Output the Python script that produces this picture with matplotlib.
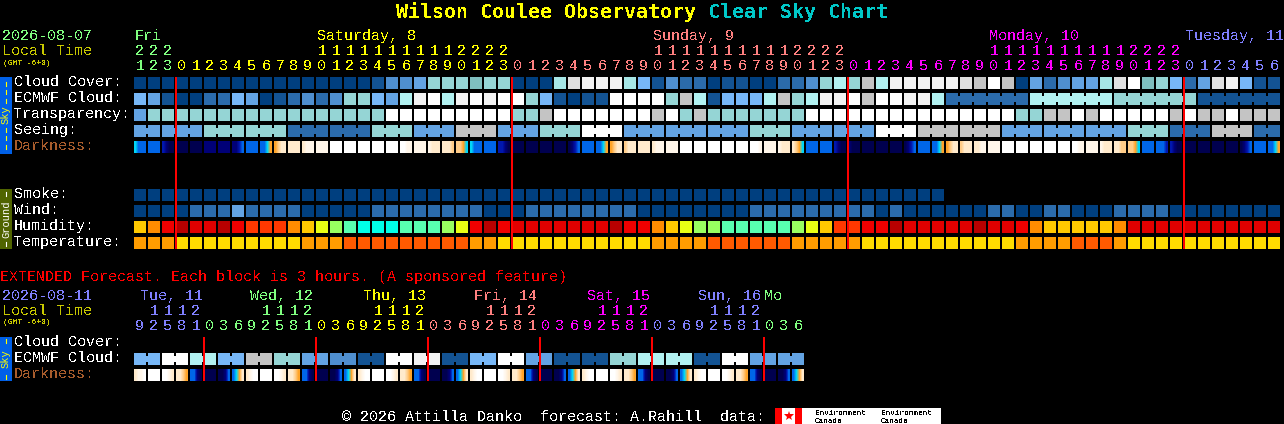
"""
Wilson Coulee Observatory Clear Sky Chart, drawn on a pixel-sized axes.
Rows are kept as strings, one letter per block, looked up in the palettes below.
"""
import numpy as np
import matplotlib
matplotlib.use("Agg")
import matplotlib.pyplot as plt
from matplotlib.colors import LinearSegmentedColormap
from matplotlib.patches import Rectangle

WIDTH, HEIGHT = 1284, 424

# ---- data: 1 hour blocks ----
CLOUD = ("aaaaaaaaaaaaaaaaa" "bdde" "hhhghh" "aaa" "ilmmmif" "bdcc" "abbaa"
         "ccdhjh" "kjmmmmm" "lknk" "aecdee" "ilnghf" "celmfbb")
ECMWF = ("febaaccfeabcdcdhhfej" "mnjmnmnnhfbabb" "nnnn" "hkjb" "fffjkhjmmn"
         "knnmmj" "cccccc" "jjjjjj" "hhhhhh" "bbbbbb")
TRANSPARENCY = ("e" "hhhhhhhhhhhhhhhhh" "nnnnnnnnn" "hhk" "nnnnnnn" "knhk"
                "hhhhhhh" "nnnnnnnnnnnnnnn" "hhkknk" "nnnnn" "knkkn" "kkk")
SEEING_GROUPS = "eehhcchekehneeeheenkkeeehckc"
SEEING_SPANS = [2] + [3] * 26 + [2]
ECMWF_SPANS = [1] * 58 + [6, 6, 6, 6]
SMOKE = "a" * 58
WIND = ("aaaa" "ccc" "e" "cccc" "aaaaa" "cccccccc" "aaa" "cccccccc" "aaaaaaaa"
        "ccccccccc" "a" "c" "aaaaaa" "cc" "aa" "cc" "aaa" "cccc" "aaaaaaaa")
HUMIDITY = ("Yorb" "ddbr" "OOOoYyGgCCCgggGy" "rbr" "ddddddd" "brr" "oYyGG"
            "gggggGyYOOrrb" "ddddd" "bddr" "oYYYYYo" "ddddddddddd")
TEMPERATURE = ("ooo" "yyyyyyyyy" "ooo" "xxxxxxxxx" "oo" "yyyyyyyyyyy" "oooo"
               "xxxxxx" "ooooo" "yyyyyyyyyyy" "oooo" "xxx" "o" "yyyyyyyyyyy")
DARKNESS = [
    "4333", "3333", "2100", "0000", "0000", "1111", "1111", "1123", "3333",
    "3345", "5677", "7777", "7888", "8888", "9999", "9999", "9999", "9999",
    "9999", "9988", "8888", "8777", "7776", "6654", "4333", "3333", "2210",
    "0000", "0000", "0000", "0000", "0123", "3333", "3345", "5677", "6777",
    "7777", "7888", "8888", "9999", "9999", "9999", "9999", "9999", "9998",
    "8888", "8777", "7654", "3333", "3333", "2100", "1000", "0000", "0000",
    "0000", "0123", "3333", "3345", "5677", "6777", "7788", "8888", "9999",
    "9999", "9999", "9999", "9999", "9988", "8888", "8777", "7766", "6654",
    "3333", "3332", "2100", "0000", "0000", "0000", "0000", "0123", "3333",
    "3345",
]

HOURS = [21, 22, 23] + list(range(24)) * 3 + list(range(7))
DAY_NAMES = ["Fri", "Saturday, 8", "Sunday, 9", "Monday, 10", "Tuesday, 11"]
DAY_COLS = [0, 13, 37, 61, 75]
DAY_STARTS = [0, 3, 27, 51, 75]  # first block of each date, for the digit colours

# ---- data: extended forecast, 3 hour blocks ----
EXT_HOURS = [9, 12, 15, 18, 21] + [0, 3, 6, 9, 12, 15, 18, 21] * 5 + [0, 3, 6]
EXT_ECMWF = "fnjfkhedbnmbfnebbhjjbnee"
EXT_SPANS = [2] * 24
EXT_DARKNESS = [
    "7889", "9999", "9987", "7765", "3310", "0000", "0013", "3457",
    "7899", "9999", "9987", "7765", "3310", "0000", "0013", "3457",
    "7899", "9999", "9987", "7765", "3310", "0000", "0013", "3457",
    "7899", "9999", "9987", "7765", "3310", "0000", "0013", "3457",
    "7899", "9999", "9987", "7765", "3310", "0000", "0013", "3457",
    "7899", "9999", "9987", "7765", "3310", "0000", "0013", "3457",
]
EXT_DAY_NAMES = ["Tue, 11", "Wed, 12", "Thu, 13", "Fri, 14", "Sat, 15", "Sun, 16", "Mo"]
EXT_DAY_X = [140, 250, 363, 474, 587, 698, 764]
EXT_STARTS = [0, 5, 13, 21, 29, 37, 45]

# ---- palettes ----
SKY = {
    "a": "#003f7f", "b": "#135393", "c": "#2b6bab", "d": "#4f8fcf",
    "e": "#63a3e3", "f": "#77b7f7", "g": "#7fbfbf", "h": "#95d5d5",
    "i": "#a6e6e6", "j": "#b1f1f1", "k": "#c4c4c4", "l": "#e0e0e0",
    "m": "#f2f2f2", "n": "#ffffff",
}
HUMID = {
    "b": "#b80000", "d": "#e00000", "r": "#f00000", "O": "#ff3800",
    "o": "#ff8c00", "Y": "#ffc800", "y": "#e8ff14", "G": "#98ff60",
    "g": "#58ffb0", "C": "#00ffe8",
}
TEMP = {"o": "#ff9c00", "y": "#ffdc00", "x": "#ff5a00"}
DARK_LEVELS = ["#00004f", "#000078", "#0018b0", "#0066e8", "#00d8f8",
               "#ffa428", "#ffcc88", "#ffeacc", "#fff6ea", "#ffffff"]

GREEN, YELLOW, PINK, MAGENTA, BLUE = "#80ff80", "#ffff00", "#ff8080", "#ff00ff", "#8080ff"
DAY_COLORS = [GREEN, YELLOW, PINK, MAGENTA, BLUE]
EXT_COLORS = [BLUE, GREEN, YELLOW, PINK, MAGENTA, BLUE, GREEN]
DIM_YELLOW = "#c8c800"
BROWN = "#a85c2c"
RED = "#ff0000"

LEFT, PITCH, BLOCK = 134, 14, 12
MONO = "Liberation Mono"
BOLD_MONO = "DejaVu Sans Mono"
dark_cmap = LinearSegmentedColormap.from_list("dark", DARK_LEVELS)

fig = plt.figure(figsize=(WIDTH / 100, HEIGHT / 100), dpi=100, facecolor="black")
ax = fig.add_axes([0, 0, 1, 1])
ax.set_facecolor("black")
ax.axis("off")


def label(x, y, s, color="white", size=10.8, family=MONO, **kw):
    # y is the baseline in pixels, no antialiasing so it looks like a bitmap font
    t = ax.text(x, y, s, color=color, fontsize=size, family=family, va="baseline", **kw)
    t.set_antialiased(False)
    return t


def expand(groups, spans):
    return "".join(c * n for c, n in zip(groups, spans))


def draw_row(top, codes, palette, spans=None):
    xs = [LEFT + PITCH * i for i in range(len(codes))]
    ax.bar(xs, [BLOCK] * len(codes), width=BLOCK, bottom=top, align="edge",
           color=[palette[c] for c in codes], linewidth=0)
    if spans is None:
        return
    # blocks from the same forecast step are joined by a narrow bridge
    col = 0
    for n in spans:
        for i in range(col, col + n - 1):
            ax.add_patch(Rectangle((xs[i] + BLOCK, top + 3), PITCH - BLOCK, 6,
                                   color=palette[codes[i]], linewidth=0))
        col += n


def draw_darkness(top, blocks):
    for i, b in enumerate(blocks):
        x0 = LEFT + PITCH * i
        vals = np.array([[int(c) for c in b]])
        ax.imshow(vals, cmap=dark_cmap, vmin=0, vmax=9, aspect="auto",
                  interpolation="bilinear",
                  extent=(x0, x0 + BLOCK, top + BLOCK, top))


def draw_hours(hours, starts, colors, tens_y, unit_y):
    for i, h in enumerate(hours):
        col = colors[np.searchsorted(starts, i, side="right") - 1]
        cx = LEFT + PITCH * i + 6
        if h >= 10:
            label(cx, tens_y, str(h // 10), col, ha="center")
        label(cx, unit_y, str(h % 10), col, ha="center")


# ---- title ----
label(396, 18, "Wilson Coulee Observatory", "#ffff00", 14.4, BOLD_MONO, fontweight="bold")
label(708, 18, "Clear Sky Chart", "#00c8c8", 14.4, BOLD_MONO, fontweight="bold")

# ---- header of the hourly part ----
label(2, 40, "2026-08-07", GREEN)
label(2, 55, "Local Time", DIM_YELLOW)
label(3, 65, "(GMT -6+0)", DIM_YELLOW, 5.8)
for name, col, color in zip(DAY_NAMES, DAY_COLS, DAY_COLORS):
    label(LEFT + PITCH * col + 1, 40, name, color)
draw_hours(HOURS, DAY_STARTS, DAY_COLORS, 55, 70)

# ---- sky rows ----
draw_row(77, CLOUD, SKY)
draw_row(93, ECMWF, SKY, ECMWF_SPANS)
draw_row(109, TRANSPARENCY, SKY)
draw_row(125, expand(SEEING_GROUPS, SEEING_SPANS), SKY, SEEING_SPANS)
draw_darkness(141, DARKNESS)

# ---- ground rows ----
draw_row(189, SMOKE, SKY)
draw_row(205, WIND, SKY)
draw_row(221, HUMIDITY, HUMID)
draw_row(237, TEMPERATURE, TEMP)

for name, y in zip(["Cloud Cover:", "ECMWF Cloud:", "Transparency:", "Seeing:"],
                   [86, 102, 118, 134]):
    label(14, y, name)
label(14, 150, "Darkness:", BROWN)
for name, y in zip(["Smoke:", "Wind:", "Humidity:", "Temperature:"],
                   [198, 214, 230, 246]):
    label(14, y, name)

# ---- side bars ----
for top, bottom, color in [(77, 154, "#0060e8"), (189, 249, "#506400"), (337, 381, "#0060e8")]:
    ax.add_patch(Rectangle((0, top), 12, bottom - top, color=color, linewidth=0))


def side_text(y, s, color):
    ax.text(6, y, s, color=color, fontsize=7.5, family=MONO, rotation=90,
            ha="center", va="center")


side_text(115, "Sky", YELLOW)
for y in [84, 92, 101, 130, 138, 147]:
    ax.plot([6, 6], [y - 2, y + 2], color=YELLOW, lw=0.8)
side_text(219, "Ground", "white")
for y in [194, 244]:
    ax.plot([6, 6], [y - 2, y + 2], color="white", lw=0.8)
side_text(359, "Sky", YELLOW)
for y in [341, 377]:
    ax.plot([6, 6], [y - 2, y + 2], color=YELLOW, lw=0.8)

# ---- midnight lines ----
for col in DAY_STARTS[1:]:
    ax.add_patch(Rectangle((LEFT + PITCH * col - 1, 77), 2, 172, color=RED,
                           linewidth=0, zorder=5))

# ---- extended forecast ----
label(0, 281, "EXTENDED Forecast. Each block is 3 hours. (A sponsored feature)", RED)
label(2, 300, "2026-08-11", BLUE)
label(2, 315, "Local Time", DIM_YELLOW)
label(3, 324, "(GMT -6+0)", DIM_YELLOW, 5.8)
for name, x, color in zip(EXT_DAY_NAMES, EXT_DAY_X, EXT_COLORS):
    label(x, 300, name, color)
draw_hours(EXT_HOURS, EXT_STARTS, EXT_COLORS, 315, 330)

draw_row(353, expand(EXT_ECMWF, EXT_SPANS), SKY, EXT_SPANS)
draw_darkness(369, EXT_DARKNESS)
label(14, 346, "Cloud Cover:")
label(14, 362, "ECMWF Cloud:")
label(14, 378, "Darkness:", BROWN)
for col in EXT_STARTS[1:]:
    ax.add_patch(Rectangle((LEFT + PITCH * col - 1, 337), 2, 44, color=RED,
                           linewidth=0, zorder=5))

# ---- footer with the data logo ----
label(342, 421, "\u00a9 2026 Attilla Danko  forecast: A.Rahill  data:")
ax.add_patch(Rectangle((775, 408), 166, 16, color="white", linewidth=0))
ax.add_patch(Rectangle((775, 408), 7, 16, color=RED, linewidth=0))
ax.add_patch(Rectangle((795, 408), 7, 16, color=RED, linewidth=0))
ax.plot([788.5], [416], marker="*", color=RED, markersize=7, markeredgewidth=0)
for x in [815, 881]:
    label(x, 415, "Environment", "black", 5.6)
    label(x, 423, "Canada", "black", 5.6)

ax.set_xlim(0, WIDTH)
ax.set_ylim(HEIGHT, 0)
fig.savefig("out.png", dpi=100, facecolor="black")
